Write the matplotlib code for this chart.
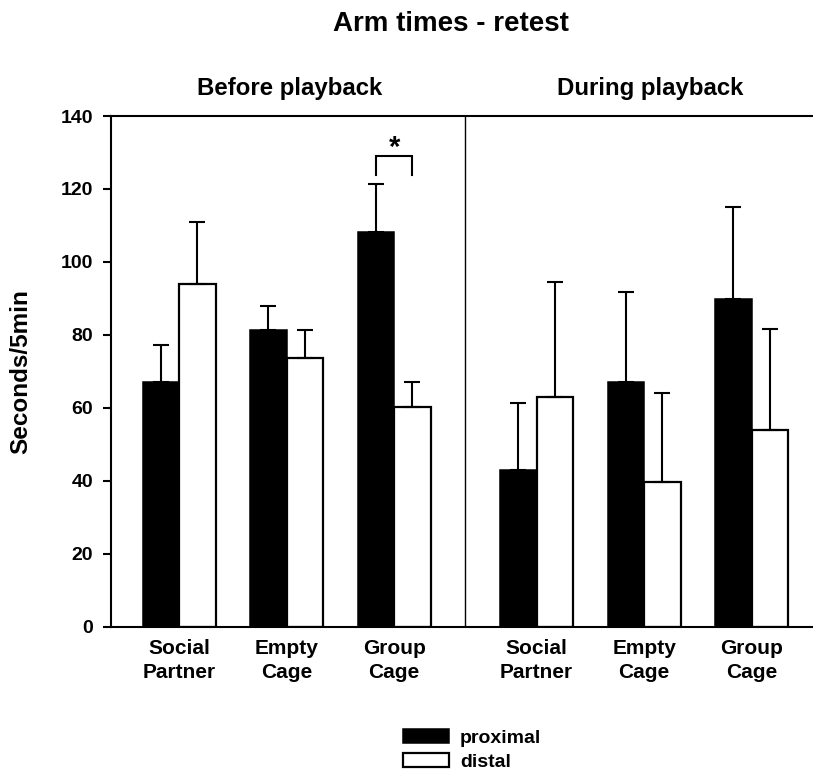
import matplotlib
matplotlib.use("Agg")
import matplotlib.pyplot as plt
from matplotlib.patches import Patch
import numpy as np

plt.rcParams['font.family'] = ['Liberation Sans', 'DejaVu Sans']
plt.rcParams['font.weight'] = 'bold'

# Categories and values (seconds per 5 min)
categories = ["Social\nPartner", "Empty\nCage", "Group\nCage"]
phases = ["Before playback", "During playback"]

before_proximal = [67.2, 81.3, 108.2]
before_proximal_err = [10.0, 6.7, 13.2]
before_distal = [93.9, 73.6, 60.2]
before_distal_err = [17.0, 7.7, 6.8]

during_proximal = [42.9, 67.2, 89.8]
during_proximal_err = [18.4, 24.6, 25.3]
during_distal = [63.0, 39.6, 54.0]
during_distal_err = [31.5, 24.4, 27.5]

yticks = [0, 20, 40, 60, 80, 100, 120, 140]

# Group centres along x (two blocks of three categories)
centers = np.array([0.0, 1.0, 2.0, 3.326, 4.326, 5.326])
divider_x = 2.659
width = 0.34

proximal = before_proximal + during_proximal
proximal_err = before_proximal_err + during_proximal_err
distal = before_distal + during_distal
distal_err = before_distal_err + during_distal_err

fig = plt.figure(figsize=(8.13, 7.73), dpi=100)
ax = fig.add_axes([111 / 813, (773 - 626.7) / 773, 719 / 813, 510.7 / 773])

x_prox = centers - width / 2
x_dist = centers + width / 2

ax.bar(x_prox, proximal, width=width, color='black', edgecolor='black',
       linewidth=1.1, zorder=2)
ax.bar(x_dist, distal, width=width, color='white', edgecolor='black',
       linewidth=1.6, zorder=2)

zeros = np.zeros(len(centers))
ax.errorbar(x_prox, proximal, yerr=[zeros, proximal_err], fmt='none',
            ecolor='black', elinewidth=1.5, capsize=5.5, capthick=1.5, zorder=3)
ax.errorbar(x_dist, distal, yerr=[zeros, distal_err], fmt='none',
            ecolor='black', elinewidth=1.5, capsize=5.5, capthick=1.5, zorder=3)

# Significance bracket over the Group Cage pair (before playback)
gx0, gx1 = x_prox[2], x_dist[2]
ax.plot([gx0, gx0, gx1, gx1], [123.8, 129.0, 129.0, 123.8], color='black',
        lw=1.5, solid_joinstyle='miter', zorder=3)
ax.text((gx0 + gx1) / 2, 127.4, "*", ha='center', va='bottom',
        fontsize=21, fontweight='bold')

ax.axvline(divider_x, color='black', lw=1.0)

ax.set_xlim(-0.634, 6.055)
ax.set_ylim(0, 140)
ax.set_yticks(yticks)
ax.set_yticklabels([str(v) for v in yticks])
ax.set_xticks(centers)
ax.set_xticklabels(categories * 2, linespacing=1.3)

ax.tick_params(axis='y', direction='out', length=6, width=1.5, pad=7,
               labelsize=14)
ax.tick_params(axis='x', length=0, pad=9, labelsize=15)
for lbl in ax.get_xticklabels() + ax.get_yticklabels():
    lbl.set_fontweight('bold')

for side in ['left', 'bottom', 'top']:
    ax.spines[side].set_linewidth(1.5)
ax.spines['right'].set_visible(False)

ax.set_ylabel("Seconds/5min", fontsize=17.5, fontweight='bold')
ax.yaxis.set_label_coords(-0.110, 0.5)

fig.text(451 / 813, 1 - 24 / 773, "Arm times - retest", ha='center',
         va='center', fontsize=20, fontweight='bold')
for label, cx in zip(phases, [290, 650]):
    fig.text(cx / 813, 1 - 88 / 773, label, ha='center', va='center',
             fontsize=17.3, fontweight='bold')

handles = [Patch(facecolor='black', edgecolor='black', linewidth=1.1),
           Patch(facecolor='white', edgecolor='black', linewidth=1.6)]
fig.legend(handles, ["proximal", "distal"], loc='upper left',
           bbox_to_anchor=(402.7 / 813, 1 - 729 / 773), frameon=False,
           borderpad=0, borderaxespad=0, handlelength=2.37, handleheight=0.72,
           handletextpad=0.57, labelspacing=0.33,
           prop={'size': 14, 'weight': 'bold'})

fig.savefig("out.png", dpi=100)
